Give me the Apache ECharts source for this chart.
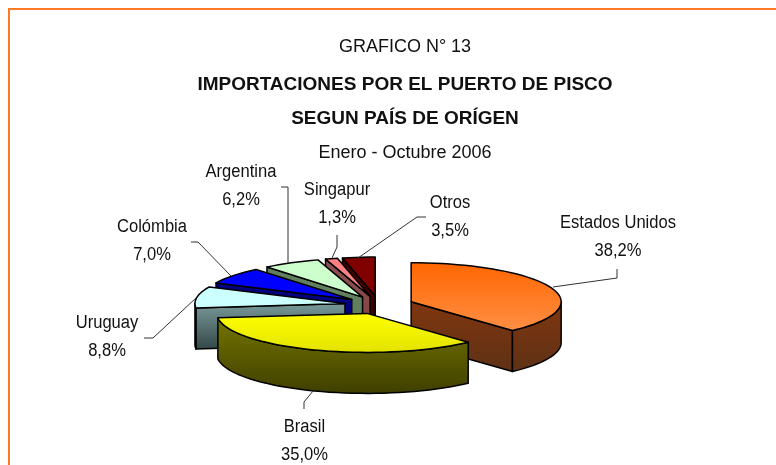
<!DOCTYPE html>
<html>
<head>
<meta charset="utf-8">
<style>html,body{margin:0;padding:0;background:#fff}#c{width:776px;height:465px}</style>
<script src="https://cdn.jsdelivr.net/npm/echarts@6/dist/echarts.min.js"></script>
</head>
<body>
<div id="c"></div>
<script>
// Data
var countries = ['Estados Unidos', 'Brasil', 'Uruguay', 'Colómbia', 'Argentina', 'Singapur', 'Otros'];
var shares = [38.2, 35.0, 8.8, 7.0, 6.2, 1.3, 3.5];
var titleLines = ['GRAFICO N° 13', 'IMPORTACIONES POR EL PUERTO DE PISCO', 'SEGUN PAÍS DE ORÍGEN', 'Enero - Octubre 2006'];

// Styles, one per slice: top colours, wall colours
var topColors = [['#FF6600','#FF8F45'],['#FFFF00','#E2E200'],['#CCFFFF','#CCFFFF'],['#0000FF','#0000FF'],['#CCFFCC','#CCFFCC'],['#FF8080','#FF8080'],['#800000','#800000']];
var wallColors = [['#80360E','#5E3116'],['#757500','#3F3F00'],['#7A9A9A','#334747'],['#000080','#000080'],['#5F7F5F','#5F7F5F'],['#8F5050','#804040'],['#400000','#400000']];

// Layout
var cx = 379, cy = 305, rx = 150, ry = 39, depth = 41, explode = 0.23;
var labelCenters = [[618,223],[304.5,427],[107,323],[152,227],[241,172],[337,190],[450,203]];
var lineGap = 28;
var leaders = [
  [[553,287],[617,278],[617,269]],
  [[313,391],[304,402],[304,409]],
  [[196,298],[153,338],[144,338]],
  [[231,276],[198,242],[191,242]],
  [[288,263],[288,187],[281,187]],
  [[332,258],[337,247],[337,235]],
  [[358,258],[417,217],[426,217]]
];
var FONT = '"Liberation Sans", Arial, sans-serif';
var total = shares.reduce(function(a,b){return a+b;},0);
var starts = []; shares.reduce(function(acc,v,i){starts[i]=acc;return acc+v;},0);

function rad(d){return d*Math.PI/180;}
function grad(c){return new echarts.graphic.LinearGradient(0,0,0,1,[{offset:0,color:c[0]},{offset:1,color:c[1]}]);}
function arc(ox,oy,a,b,dy){
  var pts=[],n=Math.max(2,Math.ceil((b-a)/3));
  for(var i=0;i<=n;i++){var t=rad(a+(b-a)*i/n);pts.push([ox+rx*Math.sin(t),oy-ry*Math.cos(t)+(dy||0)]);}
  return pts;
}
function renderSlice(params, api){
  var i=params.dataIndex, v=api.value(0);
  var a=starts[i]/total*360, b=a+v/total*360, mid=(a+b)/2;
  var ox=cx+explode*rx*Math.sin(rad(mid)), oy=cy-explode*ry*Math.cos(rad(mid));
  var base=1000+Math.round(-500*Math.cos(rad(mid)));
  var st={stroke:'#000',lineWidth:1.5,lineJoin:'round'};
  var kids=[], wallFill=grad(wallColors[i]);
  function wall(pts,z){kids.push({type:'polygon',z2:z,shape:{points:pts},style:Object.assign({fill:wallFill},st)});}
  // radial walls
  if(Math.sin(rad(a))<-1e-6){var p=arc(ox,oy,a,a,0)[0];wall([[ox,oy],p,[p[0],p[1]+depth],[ox,oy+depth]],base);}
  if(Math.sin(rad(b))>1e-6){var q=arc(ox,oy,b,b,0)[0];wall([[ox,oy],q,[q[0],q[1]+depth],[ox,oy+depth]],base);}
  // outer wall
  var fa=Math.max(a,90), fb=Math.min(b,270);
  if(fb>fa){wall(arc(ox,oy,fa,fb,0).concat(arc(ox,oy,fa,fb,depth).reverse()),base+1);}
  // top face
  kids.push({type:'polygon',z2:base+2,shape:{points:[[ox,oy]].concat(arc(ox,oy,a,b,0))},style:Object.assign({fill:grad(topColors[i])},st)});
  // leader
  kids.push({type:'polyline',z2:3000,shape:{points:leaders[i]},style:{fill:null,stroke:'#333',lineWidth:1}});
  // labels
  var c=labelCenters[i], pct=v.toFixed(1).replace('.',',')+'%';
  [api.value(1)===undefined?'':countries[i],pct].forEach(function(t,k){
    kids.push({type:'text',z2:3001,x:c[0],y:c[1]+k*lineGap,scaleX:0.92,style:{text:t,x:0,y:0,align:'center',verticalAlign:'middle',fill:'#111',font:'18px '+FONT}});
  });
  return {type:'group',children:kids};
}
var titleTops=[42,80,114,148];
var chart=echarts.init(document.getElementById('c'),null,{renderer:'canvas'});
chart.setOption({
  animation:false,
  backgroundColor:'#fff',
  title:titleLines.map(function(t,i){return {text:t,left:400,top:titleTops[i],textAlign:'center',textVerticalAlign:'middle',
    textStyle:{fontFamily:FONT,fontSize:i===1||i===2?19:18,fontWeight:i===1||i===2?'bold':'normal',color:'#111'}};}),
  graphic:[{type:'polyline',silent:true,shape:{points:[[9,465],[9,9],[776,9]]},style:{fill:null,stroke:'#FF7A26',lineWidth:2}}],
  series:[{type:'custom',coordinateSystem:'none',silent:true,clip:false,renderItem:renderSlice,
    data:shares.map(function(v,i){return {name:countries[i],value:[v,i]};})}]
});
</script>
</body>
</html>
